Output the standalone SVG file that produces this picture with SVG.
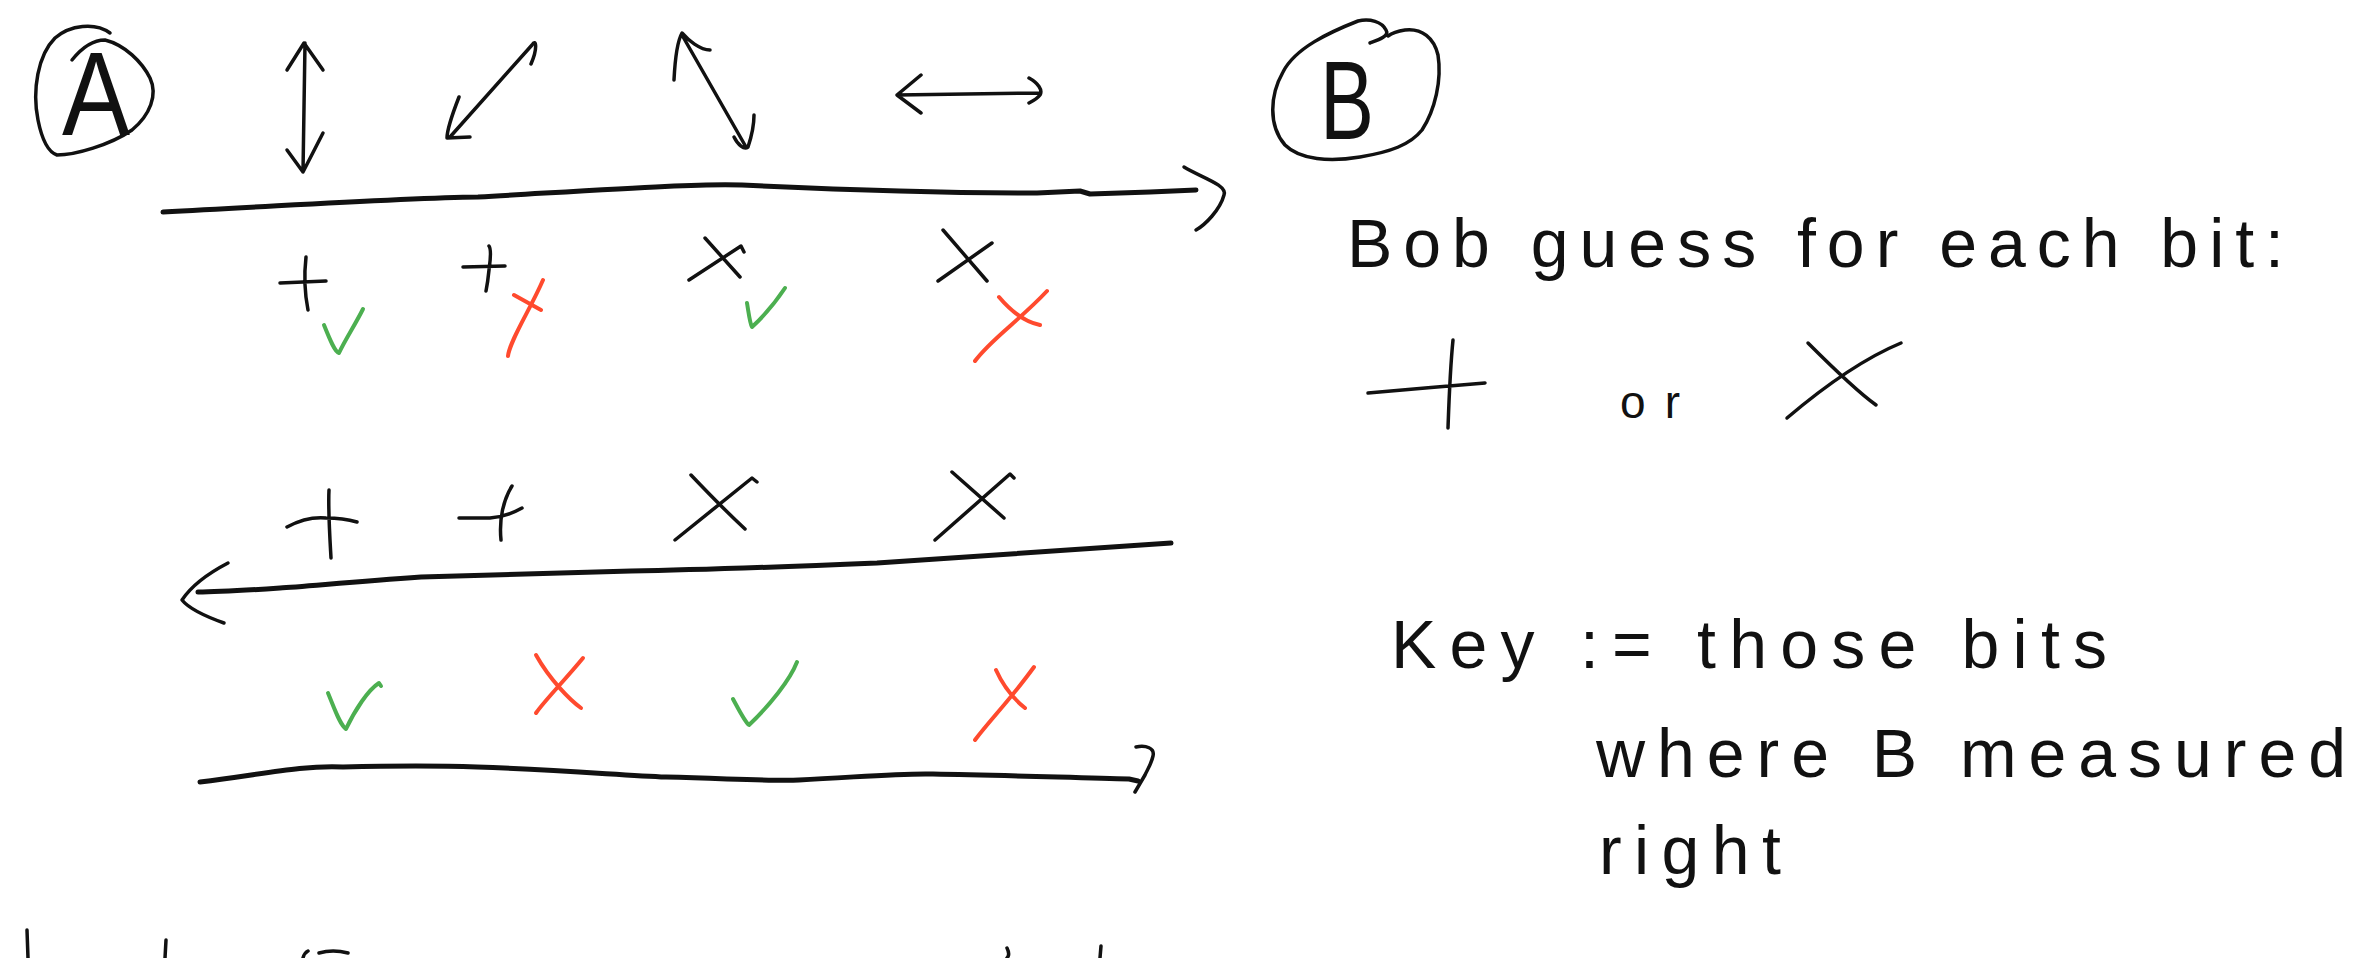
<svg xmlns="http://www.w3.org/2000/svg" width="2354" height="958" viewBox="0 0 2354 958">
<style>
.ink{fill:none;stroke:#111;stroke-width:3.5;stroke-linecap:round;stroke-linejoin:round}
.thick{stroke-width:5}
.g{fill:none;stroke:#4caf50;stroke-width:4;stroke-linecap:round;stroke-linejoin:round}
.r{fill:none;stroke:#ff4a2e;stroke-width:4;stroke-linecap:round;stroke-linejoin:round}
.t{font-family:"Liberation Sans","DejaVu Sans",sans-serif;fill:#111;font-weight:300}
</style>
<rect width="2354" height="958" fill="#fff"/>
<g id="nodeA">
<path class="ink" d="M110,33 C95,22 70,25 55,38 C38,55 32,90 38,120 C42,140 48,152 57,155 C75,155 110,145 132,130 C150,115 158,95 150,78 C142,62 125,45 105,40 C92,40 80,50 72,60"/>
<text class="t" x="62" y="135" font-size="118" textLength="68" lengthAdjust="spacingAndGlyphs">A</text>
</g>
<g id="nodeB">
<path class="ink" d="M1370,43 C1378,40 1390,36 1386,30 C1382,22 1370,18 1358,21 C1330,32 1295,48 1283,72 C1270,95 1268,125 1285,145 C1300,160 1330,162 1360,157 C1390,152 1410,145 1422,130 C1435,110 1442,80 1438,55 C1434,38 1422,28 1405,30 C1398,31 1392,33 1388,36"/>
<text class="t" x="1320" y="139" font-size="112" textLength="54" lengthAdjust="spacingAndGlyphs">B</text>
</g>
<g id="bases-alice">
<path class="ink" d="M305,43 L303,172 M287,70 L304,43 L323,70 M287,150 L303,172 L323,133"/>
<path class="ink" d="M450,137 L532,45 C536,38 538,48 531,64 M459,97 C452,115 447,130 447,138 L470,137"/>
<path class="ink" d="M682,35 L746,147 M674,80 C675,60 678,40 682,33 C688,40 700,50 710,50 M734,137 C738,145 744,150 748,147 C752,135 754,125 754,115"/>
<path class="ink" d="M897,95 L1040,93 M921,75 L897,95 L921,113 M1029,78 C1038,83 1043,90 1040,95 C1037,99 1033,101 1029,103"/>
</g>
<g id="row-bob-guess">
<path class="ink" d="M306,257 C304,275 305,295 308,310 M280,283 L326,281"/>
<path class="g" d="M324,325 C330,340 335,352 339,353 C345,340 355,325 363,309"/>
<path class="ink" d="M489,246 C492,250 490,262 489,270 C488,280 487,286 486,291 M463,267 L505,266"/>
<path class="r" d="M543,280 C530,310 510,340 508,356 M514,295 L541,310"/>
<path class="ink" d="M689,280 L741,246 L744,252 M705,238 L740,277"/>
<path class="g" d="M747,303 C749,315 750,324 752,327 C765,315 777,300 785,288"/>
<path class="ink" d="M938,281 L992,243 M943,230 L987,281"/>
<path class="r" d="M1047,291 C1020,320 990,340 975,361 M999,297 C1010,310 1025,322 1040,325"/>
</g>
<g id="row-alice-reply">
<path class="ink" d="M329,490 C328,510 330,540 331,558 M287,527 C300,520 315,517 326,518 C340,518 350,520 357,522"/>
<path class="ink" d="M512,486 C503,500 499,520 501,540 M459,518 L490,518 C505,517 515,512 522,508"/>
<path class="ink" d="M675,540 L752,478 L757,482 M691,475 C710,495 730,515 745,529"/>
<path class="ink" d="M935,540 L1010,474 L1014,478 M952,472 L1004,518"/>
</g>
<g id="row-result">
<path class="g" d="M328,693 C335,710 340,725 346,729 C355,710 368,690 379,683 L381,686"/>
<path class="r" d="M536,655 C550,680 570,700 581,708 M583,658 C565,680 545,700 536,713"/>
<path class="g" d="M733,699 C740,712 745,722 749,725 C770,705 790,680 797,662"/>
<path class="r" d="M1034,667 C1010,700 990,720 975,740 M996,670 C1005,690 1015,700 1025,708"/>
</g>
<g id="connectors">
<path class="ink thick" d="M163,212 C300,205 400,198 478,197 C600,190 700,183 742,185 C850,190 950,193 1037,193 L1080,191 L1090,194 L1150,192 L1196,190"/>
<path class="ink" d="M1184,167 C1200,177 1228,185 1224,195 C1220,210 1205,225 1196,230"/>
<path class="ink thick" d="M1171,543 C1100,548 1000,555 877,563 C780,567 700,570 631,571 C540,574 470,575 421,577 C350,582 300,587 280,588 C250,590 220,592 198,592"/>
<path class="ink" d="M228,563 C205,575 190,588 182,600 C190,610 210,618 224,623"/>
<path class="ink thick" d="M200,782 C260,775 300,765 343,767 C420,765 450,766 477,767 C560,770 620,775 666,777 C740,779 770,781 799,780 C860,777 900,773 933,774 C1000,775 1080,778 1129,779 L1138,781"/>
<path class="ink" d="M1136,747 C1146,745 1155,748 1153,756 C1151,765 1147,770 1145,775 L1135,792"/>
</g>
<g id="note-guess">
<text class="t" x="1347" y="267" font-size="68" textLength="937" lengthAdjust="spacing">Bob guess for each bit:</text>
<path class="ink" d="M1453,340 C1450,370 1449,400 1448,428 M1368,393 C1400,390 1450,386 1485,383"/>
<text class="t" x="1620" y="418" font-size="46" textLength="60" lengthAdjust="spacing">or</text>
<path class="ink" d="M1787,418 C1820,390 1860,360 1901,343 M1808,343 C1830,365 1855,390 1876,405"/>
</g>
<g id="note-key">
<text class="t" x="1391" y="668" font-size="68" textLength="716" lengthAdjust="spacing">Key := those bits</text>
<text class="t" x="1596" y="777" font-size="68" textLength="750" lengthAdjust="spacing">where B measured</text>
<text class="t" x="1599" y="874" font-size="68" textLength="182" lengthAdjust="spacing">right</text>
</g>
<g id="cutoff">
<path class="ink" d="M27,930 L28,958 M166,940 L165,958 M303,958 C304,954 306,952 308,951 M319,953 C330,950 340,951 348,953 M1007,948 C1009,952 1009,956 1007,958 M1101,946 L1100,958"/>
</g>
</svg>
